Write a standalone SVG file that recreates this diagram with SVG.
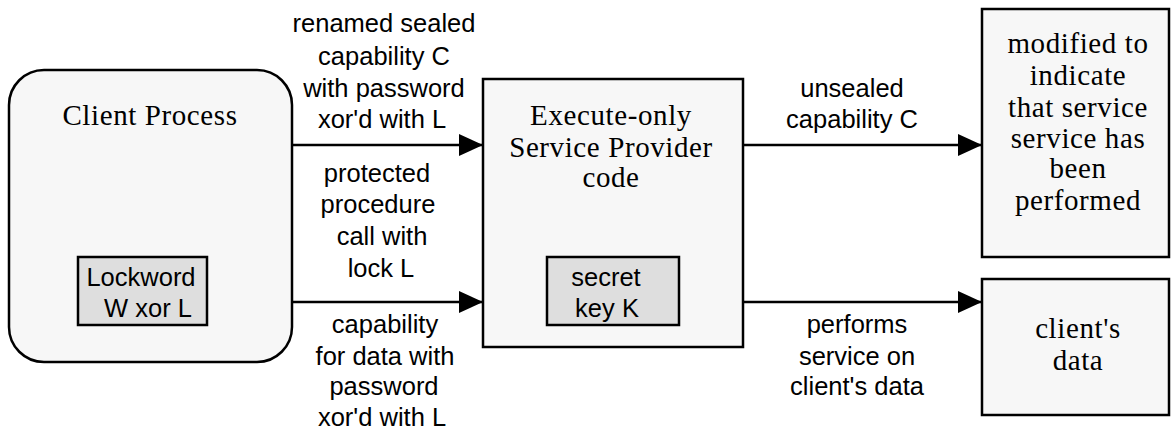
<svg xmlns="http://www.w3.org/2000/svg" width="1171" height="431" viewBox="0 0 1171 431">
  <style>
    .box { fill: #f7f7f7; stroke: #000; stroke-width: 2.5; }
    .inner { fill: #dedede; stroke: #000; stroke-width: 2.5; }
    .serif { font-family: "Liberation Serif", "Times New Roman", serif; font-size: 29px; letter-spacing: 0.6px; fill: #000; text-anchor: middle; }
    .sans { font-family: "Liberation Sans", Arial, sans-serif; font-size: 25.5px; fill: #000; text-anchor: middle; }
    .edge { fill: none; stroke: #000; stroke-width: 2.5; marker-end: url(#arrow); }
  </style>
  <defs>
    <marker id="arrow" markerUnits="userSpaceOnUse" markerWidth="26" markerHeight="24" refX="24" refY="11" orient="auto">
      <path d="M0,0 L24,11 L0,22 Z" fill="#000"/>
    </marker>
  </defs>
  <rect width="1171" height="431" fill="#fff"/>

  <g id="client-process">
    <rect class="box" x="9" y="70" width="283" height="292" rx="35" ry="35"/>
    <text class="serif" x="150" y="125">Client Process</text>
    <rect class="inner" x="78" y="257" width="129" height="68"/>
    <text class="sans" x="141" y="286">Lockword</text>
    <text class="sans" x="148" y="317">W xor L</text>
  </g>

  <g id="service-provider">
    <rect class="box" x="483" y="79" width="260" height="268"/>
    <text class="serif" x="611" y="125">Execute-only</text>
    <text class="serif" x="611" y="157">Service Provider</text>
    <text class="serif" x="611" y="187">code</text>
    <rect class="inner" x="547" y="257" width="132" height="68"/>
    <text class="sans" x="606" y="286">secret</text>
    <text class="sans" x="607" y="317">key K</text>
  </g>

  <g id="capability-target">
    <rect class="box" x="982" y="9" width="187" height="248"/>
    <text class="serif" x="1078" y="53">modified to</text>
    <text class="serif" x="1078" y="85">indicate</text>
    <text class="serif" x="1078" y="117">that service</text>
    <text class="serif" x="1078" y="148">service has</text>
    <text class="serif" x="1078" y="178">been</text>
    <text class="serif" x="1078" y="210">performed</text>
  </g>

  <g id="client-data">
    <rect class="box" x="982" y="279" width="187" height="136"/>
    <text class="serif" x="1078" y="338">client's</text>
    <text class="serif" x="1078" y="370">data</text>
  </g>

  <g id="connectors">
    <line class="edge" x1="292" y1="145" x2="483" y2="145"/>
    <line class="edge" x1="292" y1="302" x2="483" y2="302"/>
    <line class="edge" x1="743" y1="145" x2="982" y2="145"/>
    <line class="edge" x1="743" y1="302" x2="982" y2="302"/>

    <g id="label-sealed-capability">
      <text class="sans" x="384" y="32">renamed sealed</text>
      <text class="sans" x="384" y="65">capability C</text>
      <text class="sans" x="384" y="97">with password</text>
      <text class="sans" x="382" y="128">xor'd with L</text>
    </g>
    <g id="label-protected-call">
      <text class="sans" x="377" y="182">protected</text>
      <text class="sans" x="378" y="213">procedure</text>
      <text class="sans" x="382" y="245">call with</text>
      <text class="sans" x="381" y="277">lock L</text>
    </g>
    <g id="label-data-capability">
      <text class="sans" x="385" y="333">capability</text>
      <text class="sans" x="385" y="365">for data with</text>
      <text class="sans" x="384" y="395">password</text>
      <text class="sans" x="382" y="426">xor'd with L</text>
    </g>
    <g id="label-unsealed">
      <text class="sans" x="852" y="97">unsealed</text>
      <text class="sans" x="852" y="128">capability C</text>
    </g>
    <g id="label-performs">
      <text class="sans" x="857" y="333">performs</text>
      <text class="sans" x="857" y="365">service on</text>
      <text class="sans" x="857" y="395">client's data</text>
    </g>
  </g>
</svg>
